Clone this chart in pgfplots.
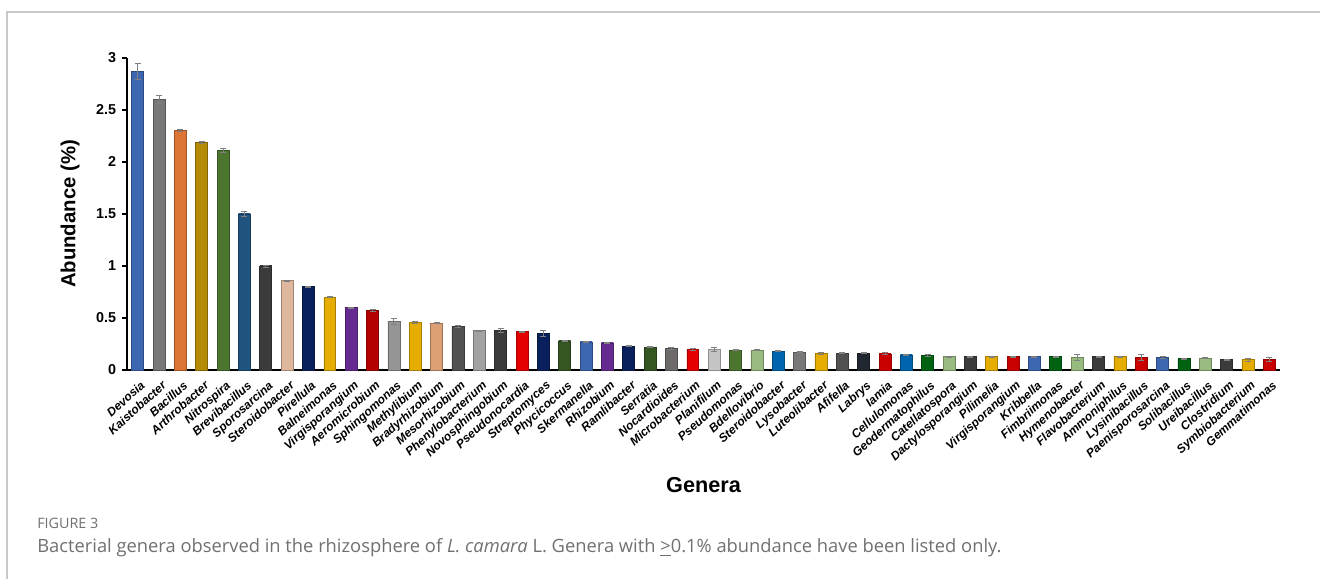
\documentclass[border=0pt]{standalone}
\usepackage{pgfplots}
\pgfplotsset{compat=1.18}
\usepackage{fontspec}
\setmainfont{Liberation Sans}
\newfontfamily\capfont{Open Sans}

% bar colours, one per genus
\definecolor{cBlue}{HTML}{4472C4}
\definecolor{cGray}{HTML}{858585}
\definecolor{cOrange}{HTML}{F5823A}
\definecolor{cGold}{HTML}{C99A06}
\definecolor{cGreen}{HTML}{548235}
\definecolor{cSteel}{HTML}{245C8C}
\definecolor{cDark}{HTML}{424242}
\definecolor{cPeach}{HTML}{F8CBAD}
\definecolor{cNavy}{HTML}{0A2466}
\definecolor{cYellow}{HTML}{FFC000}
\definecolor{cPurple}{HTML}{7030A0}
\definecolor{cCrimson}{HTML}{C80000}
\definecolor{cSilver}{HTML}{A6A6A6}
\definecolor{cSalmon}{HTML}{F4B183}
\definecolor{cMid}{HTML}{5A5A5A}
\definecolor{cPale}{HTML}{B4B4B4}
\definecolor{cRed}{HTML}{FF0000}
\definecolor{cOlive}{HTML}{3B5E27}
\definecolor{cTaupe}{HTML}{7A7676}
\definecolor{cLight}{HTML}{DADADA}
\definecolor{cMint}{HTML}{A9D18E}
\definecolor{cAzure}{HTML}{0070C0}
\definecolor{cInk}{HTML}{232B36}
\definecolor{cScarlet}{HTML}{E00000}
\definecolor{cForest}{HTML}{006E14}
\definecolor{capgray}{HTML}{707070}
\definecolor{framegray}{HTML}{C8C8C8}

% one shaded bar with its error bar: position, colour, mean, error
\newcommand{\gbar}[4]{%
  \addplot[ybar, bar shift=0pt, bar width=0.56,
    draw=#2!65!black, line width=0.4pt,
    left color=#2!90!black, middle color=#2!85!white, right color=#2!90!black,
    error bars/.cd, y dir=both, y explicit,
    error bar style={draw=gray, line width=0.5pt},
    error mark options={rotate=90, mark size=1.8pt, draw=gray, line width=0.5pt}]
    coordinates {(#1,#3) +- (0,#4)};}

\begin{document}
\begin{tikzpicture}
\useasboundingbox (0,0) rectangle (792pt,347.4pt);
% figure frame
\draw[framegray, line width=0.9pt] (792pt,340.2pt) -- (4.2pt,340.2pt) -- (4.2pt,0pt);

\begin{axis}[
  at={(76.2pt,125.4pt)}, anchor=south west,
  scale only axis, width=691.8pt, height=187.2pt,
  xmin=-0.5, xmax=53.5, ymin=0, ymax=3,
  axis x line*=bottom, axis y line*=left,
  axis line style={line width=1pt, black},
  tick align=outside,
  ytick={0,0.5,...,3},
  major tick length=3pt,
  ytick style={line width=0.8pt, black},
  xtick={0,...,53},
  xtick style={draw=none},
  minor xtick={-0.5,0.5,...,53.5},
  minor tick length=3.2pt,
  minor x tick style={line width=0.8pt, black},
  /pgf/number format/assume math mode=true,
  yticklabel style={font=\fontsize{8.6}{10}\selectfont\bfseries},
  xticklabel style={font=\fontsize{7.2}{8}\selectfont\bfseries\itshape,
    rotate=42, anchor=north east, inner sep=1pt, yshift=-2pt},
  xticklabels={Devosia,Kaistobacter,Bacillus,Arthrobacter,Nitrospira,Brevibacillus,Sporosarcina,Steroidobacter,Pirellula,Balneimonas,Virgisporangium,Aeromicrobium,Sphingomonas,Methylibium,Bradyrhizobium,Mesorhizobium,Phenylobacterium,Novosphingobium,Pseudonocardia,Streptomyces,Phycicoccus,Skermanella,Rhizobium,Ramlibacter,Serratia,Nocardioides,Microbacterium,Planifilum,Pseudomonas,Bdellovibrio,Steroidobacter,Lysobacter,Luteolibacter,Afifella,Labrys,Iamia,Cellulomonas,Geodermatophilus,Catellatospora,Dactylosporangium,Pilimelia,Virgisporangium,Kribbella,Fimbriimonas,Hymenobacter,Flavobacterium,Ammoniphilus,Lysinibacillus,Paenisporosarcina,Solibacillus,Ureibacillus,Clostridium,Symbiobacterium,Gemmatimonas},
  xlabel={Genera},
  xlabel style={font=\fontsize{13}{15}\selectfont\bfseries,
    at={(axis description cs:0.5,0)}, anchor=center, yshift=-69pt},
  ylabel={Abundance (\%)},
  ylabel style={font=\fontsize{12.2}{14}\selectfont\bfseries,
    at={(axis description cs:-0.0494,0.5)}, anchor=center},
  clip=false,
]
\gbar{0}{cBlue}{2.87}{0.08}
\gbar{1}{cGray}{2.60}{0.04}
\gbar{2}{cOrange}{2.30}{0.01}
\gbar{3}{cGold}{2.19}{0.01}
\gbar{4}{cGreen}{2.11}{0.02}
\gbar{5}{cSteel}{1.50}{0.02}
\gbar{6}{cDark}{1.00}{0.01}
\gbar{7}{cPeach}{0.86}{0.005}
\gbar{8}{cNavy}{0.80}{0.005}
\gbar{9}{cYellow}{0.70}{0.005}
\gbar{10}{cPurple}{0.60}{0.005}
\gbar{11}{cCrimson}{0.57}{0.01}
\gbar{12}{cSilver}{0.47}{0.03}
\gbar{13}{cYellow}{0.46}{0.01}
\gbar{14}{cSalmon}{0.45}{0.005}
\gbar{15}{cMid}{0.42}{0.01}
\gbar{16}{cPale}{0.38}{0.005}
\gbar{17}{cDark}{0.38}{0.02}
\gbar{18}{cRed}{0.37}{0.005}
\gbar{19}{cNavy}{0.35}{0.03}
\gbar{20}{cOlive}{0.28}{0.005}
\gbar{21}{cBlue}{0.27}{0.005}
\gbar{22}{cPurple}{0.26}{0.005}
\gbar{23}{cNavy}{0.23}{0.005}
\gbar{24}{cOlive}{0.22}{0.005}
\gbar{25}{cTaupe}{0.21}{0.01}
\gbar{26}{cRed}{0.20}{0.01}
\gbar{27}{cLight}{0.20}{0.02}
\gbar{28}{cGreen}{0.19}{0.005}
\gbar{29}{cMint}{0.19}{0.005}
\gbar{30}{cAzure}{0.18}{0.005}
\gbar{31}{cGray}{0.17}{0.005}
\gbar{32}{cYellow}{0.16}{0.01}
\gbar{33}{cMid}{0.16}{0.005}
\gbar{34}{cInk}{0.16}{0.005}
\gbar{35}{cScarlet}{0.155}{0.01}
\gbar{36}{cAzure}{0.145}{0.005}
\gbar{37}{cForest}{0.14}{0.005}
\gbar{38}{cMint}{0.13}{0.005}
\gbar{39}{cDark}{0.13}{0.005}
\gbar{40}{cYellow}{0.13}{0.005}
\gbar{41}{cScarlet}{0.13}{0.005}
\gbar{42}{cBlue}{0.128}{0.005}
\gbar{43}{cForest}{0.13}{0.005}
\gbar{44}{cMint}{0.12}{0.03}
\gbar{45}{cDark}{0.128}{0.005}
\gbar{46}{cYellow}{0.128}{0.005}
\gbar{47}{cScarlet}{0.12}{0.03}
\gbar{48}{cBlue}{0.12}{0.01}
\gbar{49}{cForest}{0.11}{0.005}
\gbar{50}{cMint}{0.115}{0.005}
\gbar{51}{cDark}{0.10}{0.005}
\gbar{52}{cYellow}{0.10}{0.015}
\gbar{53}{cScarlet}{0.10}{0.02}
\end{axis}

% caption
\node[anchor=base west, inner sep=0pt, text=capgray,
  font=\capfont\fontsize{8.6}{10}\selectfont] at (22.2pt,30pt) {FIGURE 3};
\node[anchor=base west, inner sep=0pt, text=capgray,
  font=\capfont\fontsize{11}{13}\selectfont] at (22.2pt,15.6pt)
  {Bacterial genera observed in the rhizosphere of \textit{L. camara} L. Genera with \underline{>}0.1\% abundance have been listed only.};
\end{tikzpicture}
\end{document}
